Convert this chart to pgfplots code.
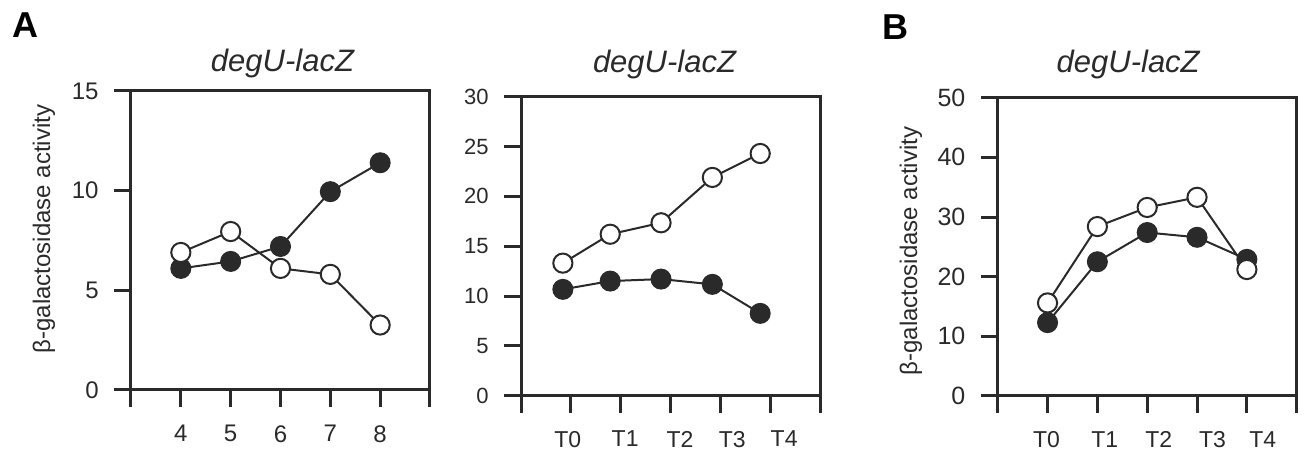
\documentclass[border=0pt]{standalone}
\usepackage{fontspec}
\setmainfont{Liberation Sans}
\usepackage{pgfplots}
\pgfplotsset{compat=1.18}
\definecolor{fg}{HTML}{2A2A2A}
\pgfplotsset{
  panel/.style={
    scale only axis, width=149.5pt, height=149.5pt,
    anchor=south west, clip=false,
    axis line style={line width=1.5pt, draw=fg},
    tick style={line width=1.5pt, draw=fg},
    tick align=outside, major tick length=8.5pt, tick pos=left,
    /pgf/number format/assume math mode=true,
    every tick label/.append style={text=fg},
    yticklabel style={anchor=east, inner sep=0pt, xshift=-7.5pt, font=\fontsize{12}{14}\selectfont},
    xticklabel style={anchor=north, inner sep=0pt, yshift=-9pt, font=\fontsize{12}{14}\selectfont},
    every axis title shift=0pt,
    title style={at={(0.5,1)}, anchor=base, text=fg, font=\fontsize{15.5}{17}\selectfont\itshape},
    ylabel style={rotate=0, anchor=center, text=fg, font=\fontsize{12}{14}\selectfont},
  },
  filled/.style={draw=fg, line width=1pt, mark=*, mark size=5pt, mark options={fill=fg, draw=fg, line width=0.5pt}},
  open/.style={draw=fg, line width=1pt, mark=*, mark size=4.8pt, mark options={fill=white, draw=fg, line width=1pt}},
}
\begin{document}
\begin{tikzpicture}
\useasboundingbox (0,0) rectangle (652.5pt,226.5pt);
% Panel A left
\begin{axis}[panel, at={(65.5pt,31.5pt)},
  xmin=3, xmax=9, ymin=0, ymax=15,
  xtick={3,4,5,6,7,8,9}, xticklabels={,4,5,6,7,8,},
  ytick={0,5,10,15},
  title={degU-lacZ}, title style={yshift=9.5pt, xshift=1pt},
  ylabel={β-galactosidase activity},
  ylabel style={at={(axis description cs:-0.291,0.538)}},
]
\addplot[filled] coordinates {(4,6.1) (5,6.45) (6,7.2) (7,9.95) (8,11.4)};
\addplot[open] coordinates {(4,6.9) (5,7.95) (6,6.1) (7,5.8) (8,3.26)};
\end{axis}
% Panel A right
\begin{axis}[panel, at={(260.5pt,28.65pt)},
  xmin=0, xmax=6, ymin=0, ymax=30,
  xtick={0,1,2,3,4,5,6}, xticklabels={,,,,,,},
  extra x ticks={0.94,2.09,3.19,4.24,5.28},
  extra x tick labels={T0,T1,T2,T3,T4},
  extra x tick style={major tick length=0pt, tick style={draw=none}, xticklabel style={yshift=-8.5pt}},
  ytick={0,5,10,15,20,25,30},
  yticklabel style={font=\fontsize{11}{13}\selectfont},
  xticklabel style={font=\fontsize{11.5}{13}\selectfont},
  title={degU-lacZ}, title style={yshift=12.3pt, xshift=-3pt},
]
\addplot[filled] coordinates {(0.84,10.67) (1.79,11.5) (2.81,11.7) (3.84,11.17) (4.80,8.26)};
\addplot[open] coordinates {(0.84,13.3) (1.79,16.2) (2.81,17.35) (3.84,21.9) (4.80,24.3)};
\end{axis}
% Panel B
\begin{axis}[panel, at={(498.85pt,28.5pt)}, height=149.15pt,
  xmin=0, xmax=6, ymin=0, ymax=50,
  xtick={0,1,2,3,4,5,6}, xticklabels={,,,,,,},
  extra x ticks={0.98,2.15,3.23,4.31,5.32},
  extra x tick labels={T0,T1,T2,T3,T4},
  extra x tick style={major tick length=0pt, tick style={draw=none}, xticklabel style={yshift=-8.5pt}},
  ytick={0,10,20,30,40,50},
  yticklabel style={font=\fontsize{12.5}{14}\selectfont},
  xticklabel style={font=\fontsize{11.5}{13}\selectfont},
  title={degU-lacZ}, title style={yshift=12.8pt, xshift=-9.5pt},
  ylabel={β-galactosidase activity},
  ylabel style={at={(axis description cs:-0.29,0.486)}},
]
\addplot[filled] coordinates {(1,12.3) (2,22.5) (3,27.4) (4,26.6) (5,22.9)};
\addplot[open] coordinates {(1,15.6) (2,28.4) (3,31.6) (4,33.3) (5,21.2)};
\end{axis}
\node[anchor=base west, inner sep=0pt, text=black, font=\fontsize{18}{20}\selectfont\bfseries] at (6pt,207.5pt) {A};
\node[anchor=base west, inner sep=0pt, text=black, font=\fontsize{18}{20}\selectfont\bfseries] at (441pt,206.5pt) {B};
\end{tikzpicture}
\end{document}
